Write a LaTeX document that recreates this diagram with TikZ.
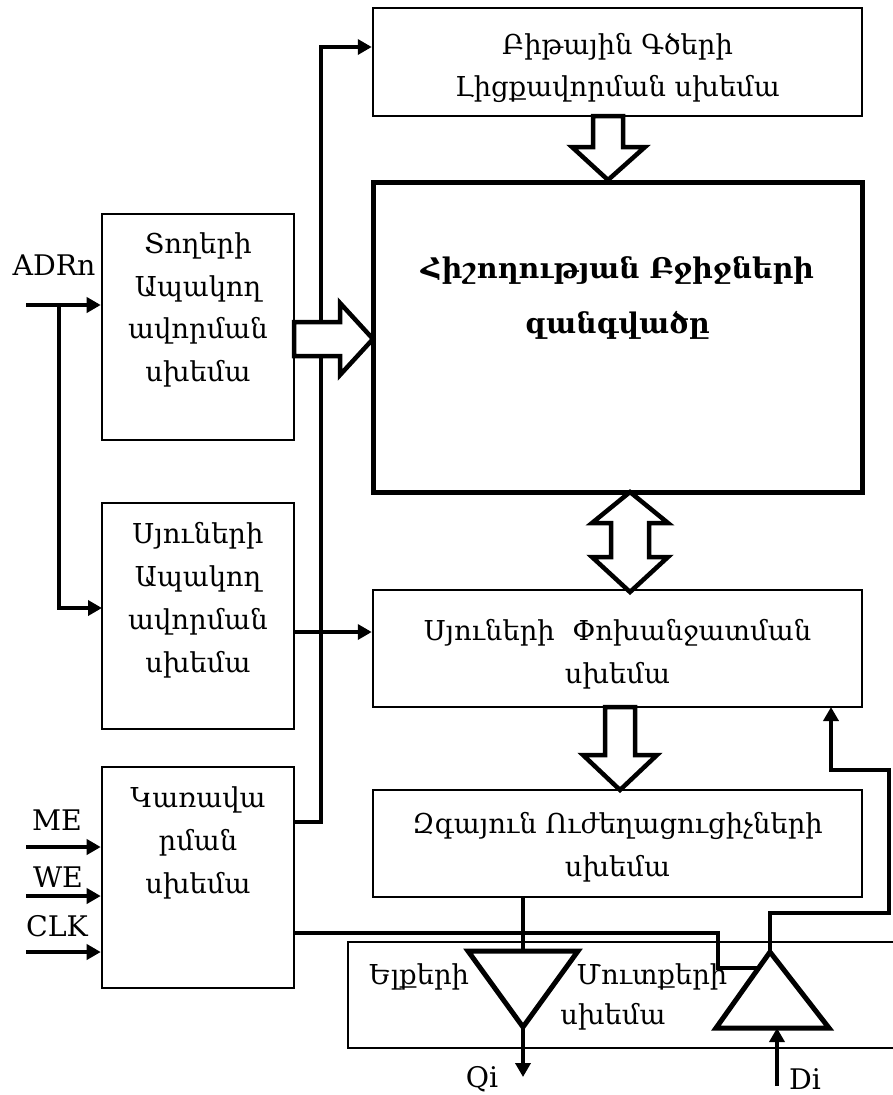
\documentclass[tikz,border=0pt]{standalone}
\usepackage{fontspec}
\setmainfont{DejaVu Serif}
\usetikzlibrary{arrows.meta}
\begin{document}
\begin{tikzpicture}[x=1bp,y=-1bp,
  box/.style={draw, line width=2.5bp, rectangle, inner sep=0pt},
  bigbox/.style={draw, line width=5bp, rectangle, inner sep=0pt},
  txt/.style={align=center, inner sep=0pt, font=\fontsize{27.5}{43}\selectfont},
  lbl/.style={inner sep=0pt, font=\fontsize{28.5}{34}\selectfont},
  title/.style={align=center, inner sep=0pt, font=\fontsize{28.5}{55}\selectfont\bfseries},
  wire/.style={line width=3.5bp},
  arr/.style={wire, -{Triangle[length=14bp,width=15bp]}},
  hollow/.style={draw, fill=white, line width=4.5bp, line join=miter},
  buf/.style={draw, line width=5bp, line join=miter}]
\useasboundingbox (0,0) rectangle (893,1095);

% blocks on the right
\node[box, minimum width=489bp, minimum height=108bp] (bitline) at (617.5,62) {};
\node[txt] (bitline-t) at (617.5,68) {Բիթային Գծերի\\Լիցքավորման սխեմա};

\node[bigbox, minimum width=489bp, minimum height=310bp] (array) at (617.5,337) {};
\node[title] (array-t) at (617.5,298) {Հիշողության Բջիջների\\զանգվածը};

\node[box, minimum width=489bp, minimum height=117bp] (colsw) at (617.5,648.5) {};
\node[txt] (colsw-t) at (617.5,654) {Սյուների\ \ Փոխանջատման\\սխեմա};

\node[box, minimum width=489bp, minimum height=107bp] (sense) at (617.5,843.5) {};
\node[txt] (sense-t) at (617.5,847) {Զգայուն Ուժեղացուցիչների\\սխեմա};

\node[box, minimum width=562bp, minimum height=106bp] (iobox) at (629,995) {};
\node[txt] (io-out) at (419,977) {Ելքերի};
\node[txt] (io-in) at (652,977) {Մուտքերի};
\node[txt] (io-sch) at (613,1017) {սխեմա};

% blocks on the left
\node[box, minimum width=192bp, minimum height=226bp] (rowdec) at (198,327) {};
\node[txt] (rowdec-t) at (198,310) {Տողերի\\Ապակող\\ավորման\\սխեմա};

\node[box, minimum width=192bp, minimum height=226bp] (coldec) at (198,616) {};
\node[txt] (coldec-t) at (198,600) {Սյուների\\Ապակող\\ավորման\\սխեմա};

\node[box, minimum width=192bp, minimum height=221bp] (ctrl) at (198,877.5) {};
\node[txt] (ctrl-t) at (198,843) {Կառավա\\րման\\սխեմա};

% input and output labels
\node[lbl] (adr) at (54,265) {ADRn};
\node[lbl] (me) at (57,820) {ME};
\node[lbl] (we) at (58,877) {WE};
\node[lbl] (clk) at (57,926) {CLK};
\node[lbl] (qi) at (482,1079) {Qi};
\node[lbl] (di) at (805,1079) {Di};

% port coordinates
\coordinate (adrin) at (26,305);
\coordinate (adrsplit) at (59,305);
\coordinate (colin) at (102,608);
\coordinate (mein) at (26,847);
\coordinate (wein) at (26,896);
\coordinate (clkin) at (26,952);
\coordinate (ctrlout1) at (294,822);
\coordinate (bus) at (321,822);
\coordinate (bustop) at (321,47);
\coordinate (coldecout) at (294,632);
\coordinate (ctrlout2) at (294,933);
\coordinate (senseout) at (523,897);
\coordinate (fbin) at (831,707);

% buffers
\coordinate (ob-l) at (468,951);
\coordinate (ob-r) at (578,951);
\coordinate (ob-top) at (523,951);
\coordinate (ob-tip) at (523,1027);
\coordinate (qiend) at (523,1077);
\coordinate (ib-apex) at (770,952);
\coordinate (ib-l) at (716,1028);
\coordinate (ib-r) at (829,1028);
\coordinate (ib-base) at (777,1028);
\coordinate (diin) at (777,1086);
\coordinate (ib-en) at (759,968);

% address and control wires
\draw[arr] (adrin) -- (adrin -| rowdec.west);
\draw[arr] (adrsplit) |- (colin);
\draw[arr] (mein) -- (mein -| ctrl.west);
\draw[arr] (wein) -- (wein -| ctrl.west);
\draw[arr] (clkin) -- (clkin -| ctrl.west);
\draw[arr] (ctrlout1) -- (bus) -- (bustop) -- (bustop -| bitline.west);
\draw[arr] (coldecout) -- (coldecout -| colsw.west);
\draw[wire] (ctrlout2) -- (718,933) -- (718,968) -- (ib-en);

% data path wires
\draw[wire] (senseout) -- (ob-top);
\draw[arr] (ob-tip) -- (qiend);
\draw[arr] (diin) -- (ib-base);
\draw[arr] (ib-apex) -- (770,913) -- (889,913) -- (889,770) -- (831,770) -- (fbin);

% tri-state buffers
\draw[buf] (ob-l) -- (ob-r) -- (ob-tip) -- cycle;
\draw[buf] (ib-apex) -- (ib-r) -- (ib-l) -- cycle;

% wide bus arrows
\draw[hollow] (294,322) -- (340,322) -- (340,303) -- (373,339) -- (340,375) -- (340,356) -- (294,356) -- cycle;
\draw[hollow] (593,116) -- (593,147) -- (572,147) -- (608,180) -- (645,147) -- (623,147) -- (623,116) -- cycle;
\draw[hollow] (605,707) -- (605,755) -- (583,755) -- (620,790) -- (657,755) -- (635,755) -- (635,707) -- cycle;
\draw[hollow] (630,492) -- (668,523) -- (649,523) -- (649,557) -- (668,557) -- (630,592) -- (592,557) -- (611,557) -- (611,523) -- (592,523) -- cycle;
\end{tikzpicture}
\end{document}
